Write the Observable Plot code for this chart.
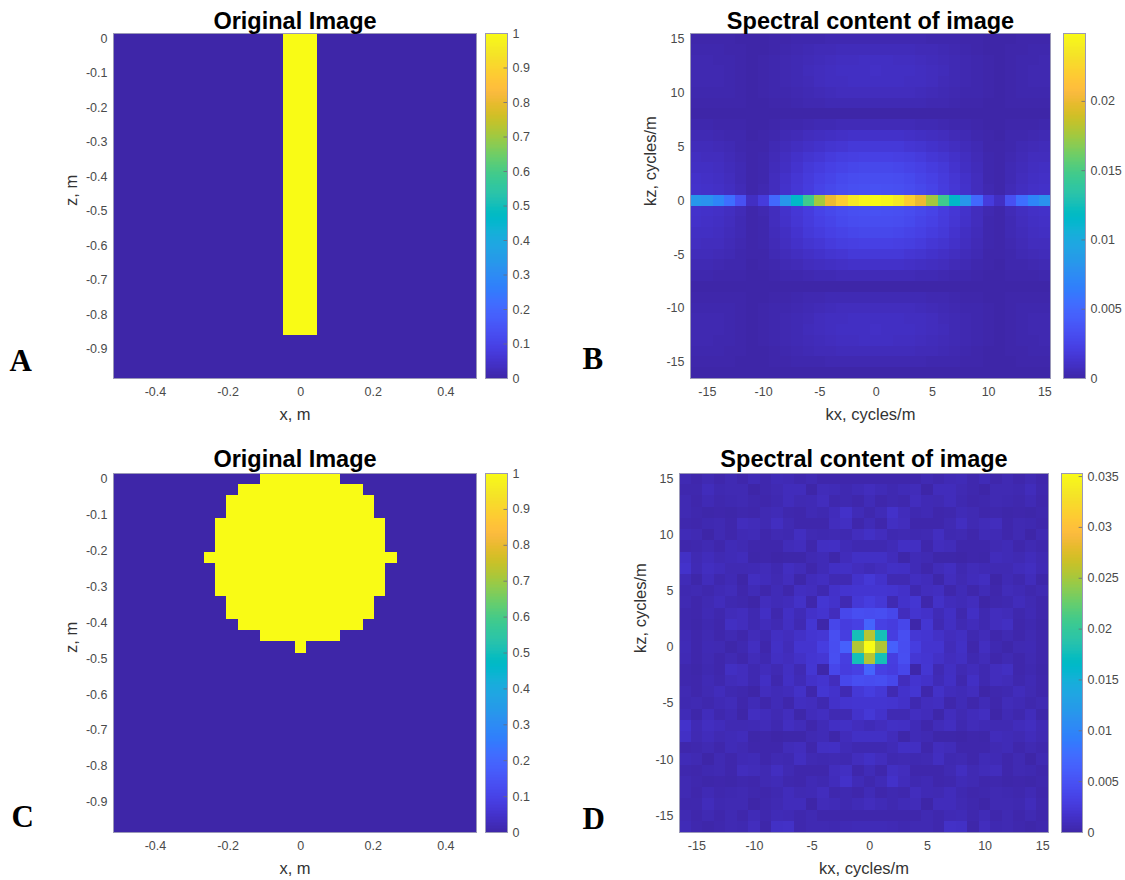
<!DOCTYPE html>
<html>
<head>
<meta charset="utf-8">
<script src="https://cdn.jsdelivr.net/npm/d3@7"></script>
<script src="https://cdn.jsdelivr.net/npm/@observablehq/plot@0.6"></script>
<style>
  html, body { margin: 0; padding: 0; background: #fff; }
  #fig { position: relative; width: 1125px; height: 880px; overflow: hidden; background: #fff; }
  #fig svg { position: absolute; overflow: visible; }
</style>
</head>
<body>
<div id="fig"></div>
<script>
// ---------- grid coordinates (cell centres) ----------
const xCells = [-0.5, -0.46875, -0.4375, -0.40625, -0.375, -0.34375, -0.3125, -0.28125,
  -0.25, -0.21875, -0.1875, -0.15625, -0.125, -0.09375, -0.0625, -0.03125,
  0, 0.03125, 0.0625, 0.09375, 0.125, 0.15625, 0.1875, 0.21875,
  0.25, 0.28125, 0.3125, 0.34375, 0.375, 0.40625, 0.4375, 0.46875];
const zCells = [0, -0.03125, -0.0625, -0.09375, -0.125, -0.15625, -0.1875, -0.21875,
  -0.25, -0.28125, -0.3125, -0.34375, -0.375, -0.40625, -0.4375, -0.46875,
  -0.5, -0.53125, -0.5625, -0.59375, -0.625, -0.65625, -0.6875, -0.71875,
  -0.75, -0.78125, -0.8125, -0.84375, -0.875, -0.90625, -0.9375, -0.96875];
const kxCells = [-16, -15, -14, -13, -12, -11, -10, -9, -8, -7, -6, -5, -4, -3, -2, -1,
  0, 1, 2, 3, 4, 5, 6, 7, 8, 9, 10, 11, 12, 13, 14, 15];
const kzCells = [15, 14, 13, 12, 11, 10, 9, 8, 7, 6, 5, 4, 3, 2, 1, 0,
  -1, -2, -3, -4, -5, -6, -7, -8, -9, -10, -11, -12, -13, -14, -15, -16];

// ---------- images: one string per row (top row z = 0), 1 = object ----------
const imageBar = [
  "00000000000000011100000000000000", "00000000000000011100000000000000",
  "00000000000000011100000000000000", "00000000000000011100000000000000",
  "00000000000000011100000000000000", "00000000000000011100000000000000",
  "00000000000000011100000000000000", "00000000000000011100000000000000",
  "00000000000000011100000000000000", "00000000000000011100000000000000",
  "00000000000000011100000000000000", "00000000000000011100000000000000",
  "00000000000000011100000000000000", "00000000000000011100000000000000",
  "00000000000000011100000000000000", "00000000000000011100000000000000",
  "00000000000000011100000000000000", "00000000000000011100000000000000",
  "00000000000000011100000000000000", "00000000000000011100000000000000",
  "00000000000000011100000000000000", "00000000000000011100000000000000",
  "00000000000000011100000000000000", "00000000000000011100000000000000",
  "00000000000000011100000000000000", "00000000000000011100000000000000",
  "00000000000000011100000000000000", "00000000000000011100000000000000",
  "00000000000000000000000000000000", "00000000000000000000000000000000",
  "00000000000000000000000000000000", "00000000000000000000000000000000"
];
const imageDisk = [
  "00000000000001111111000000000000",
  "00000000000111111111110000000000",
  "00000000001111111111111000000000",
  "00000000001111111111111000000000",
  "00000000011111111111111100000000",
  "00000000011111111111111100000000",
  "00000000011111111111111100000000",
  "00000000111111111111111110000000",
  "00000000011111111111111100000000",
  "00000000011111111111111100000000",
  "00000000011111111111111100000000",
  "00000000001111111111111000000000",
  "00000000001111111111111000000000",
  "00000000000111111111110000000000",
  "00000000000001111111000000000000",
  "00000000000000001000000000000000",
  "00000000000000000000000000000000", "00000000000000000000000000000000",
  "00000000000000000000000000000000", "00000000000000000000000000000000",
  "00000000000000000000000000000000", "00000000000000000000000000000000",
  "00000000000000000000000000000000", "00000000000000000000000000000000",
  "00000000000000000000000000000000", "00000000000000000000000000000000",
  "00000000000000000000000000000000", "00000000000000000000000000000000",
  "00000000000000000000000000000000", "00000000000000000000000000000000",
  "00000000000000000000000000000000", "00000000000000000000000000000000"
];

// ---------- spectra, in units of 1e-4; rows run kz = 15 (top) .. -16, columns kx = -16 .. 15 ----------
const spectrumBar = [
  [1,1,1,1,0,0,0,1,1,2,2,2,3,3,3,3,3,3,3,3,3,2,2,2,1,1,0,0,0,1,1,1],
  [2,2,2,1,1,0,0,1,2,3,4,5,5,6,6,6,6,6,6,6,5,5,4,3,2,1,0,0,1,1,2,2],
  [3,3,2,2,1,0,1,2,3,4,5,6,7,8,8,9,9,9,8,8,7,6,5,4,3,2,1,0,1,2,2,3],
  [3,3,3,2,1,0,1,2,3,4,6,7,8,9,9,9,10,9,9,9,8,7,6,4,3,2,1,0,1,2,3,3],
  [3,3,3,2,1,0,1,2,3,4,5,7,8,8,9,9,9,9,9,8,8,7,5,4,3,2,1,0,1,2,3,3],
  [2,2,2,2,1,0,1,2,2,3,4,5,6,7,7,7,7,7,7,7,6,5,4,3,2,2,1,0,1,2,2,2],
  [1,1,1,1,1,0,0,1,1,2,3,3,4,4,4,4,4,4,4,4,4,3,3,2,1,1,0,0,1,1,1,1],
  [0,0,0,0,0,0,0,0,0,0,0,0,0,0,0,0,0,0,0,0,0,0,0,0,0,0,0,0,0,0,0,0],
  [2,2,1,1,1,0,0,1,2,2,3,4,4,5,5,5,5,5,5,5,4,4,3,2,2,1,0,0,1,1,1,2],
  [4,4,3,2,2,0,1,2,4,5,7,8,9,10,11,11,11,11,11,10,9,8,7,5,4,2,1,0,2,2,3,4],
  [6,6,5,4,2,1,1,4,6,8,10,12,14,15,17,17,17,17,17,15,14,12,10,8,6,4,1,1,2,4,5,6],
  [8,7,7,5,3,1,2,5,8,11,14,16,19,21,22,23,23,23,22,21,19,16,14,11,8,5,2,1,3,5,7,7],
  [9,9,8,6,4,1,2,6,9,13,17,20,23,25,27,28,28,28,27,25,23,20,17,13,9,6,2,1,4,6,8,9],
  [11,10,9,7,4,1,2,7,11,15,19,23,26,29,31,32,32,32,31,29,26,23,19,15,11,7,2,1,4,7,9,10],
  [12,11,10,8,5,1,3,7,12,16,20,25,28,31,33,34,35,34,33,31,28,25,20,16,12,7,3,1,5,8,10,11],
  [83,80,70,55,34,9,19,51,83,116,146,176,200,221,237,246,249,246,237,221,200,176,146,116,83,51,19,9,34,55,70,80],
  [12,11,10,8,5,1,3,7,12,16,20,25,28,31,33,34,35,34,33,31,28,25,20,16,12,7,3,1,5,8,10,11],
  [11,10,9,7,4,1,2,7,11,15,19,23,26,29,31,32,32,32,31,29,26,23,19,15,11,7,2,1,4,7,9,10],
  [9,9,8,6,4,1,2,6,9,13,17,20,23,25,27,28,28,28,27,25,23,20,17,13,9,6,2,1,4,6,8,9],
  [8,7,7,5,3,1,2,5,8,11,14,16,19,21,22,23,23,23,22,21,19,16,14,11,8,5,2,1,3,5,7,7],
  [6,6,5,4,2,1,1,4,6,8,10,12,14,15,17,17,17,17,17,15,14,12,10,8,6,4,1,1,2,4,5,6],
  [4,4,3,2,2,0,1,2,4,5,7,8,9,10,11,11,11,11,11,10,9,8,7,5,4,2,1,0,2,2,3,4],
  [2,2,1,1,1,0,0,1,2,2,3,4,4,5,5,5,5,5,5,5,4,4,3,2,2,1,0,0,1,1,1,2],
  [0,0,0,0,0,0,0,0,0,0,0,0,0,0,0,0,0,0,0,0,0,0,0,0,0,0,0,0,0,0,0,0],
  [1,1,1,1,1,0,0,1,1,2,3,3,4,4,4,4,4,4,4,4,4,3,3,2,1,1,0,0,1,1,1,1],
  [2,2,2,2,1,0,1,2,2,3,4,5,6,7,7,7,7,7,7,7,6,5,4,3,2,2,1,0,1,2,2,2],
  [3,3,3,2,1,0,1,2,3,4,5,7,8,8,9,9,9,9,9,8,8,7,5,4,3,2,1,0,1,2,3,3],
  [3,3,3,2,1,0,1,2,3,4,6,7,8,9,9,9,10,9,9,9,8,7,6,4,3,2,1,0,1,2,3,3],
  [3,3,2,2,1,0,1,2,3,4,5,6,7,8,8,9,9,9,8,8,7,6,5,4,3,2,1,0,1,2,2,3],
  [2,2,2,1,1,0,0,1,2,3,4,5,5,6,6,6,6,6,6,6,5,5,4,3,2,1,0,0,1,1,2,2],
  [1,1,1,1,0,0,0,1,1,2,2,2,3,3,3,3,3,3,3,3,3,2,2,2,1,1,0,0,0,1,1,1],
  [0,0,0,0,0,0,0,0,0,0,0,0,0,0,0,0,0,0,0,0,0,0,0,0,0,0,0,0,0,0,0,0]
];
const spectrumDisk = [
  [5,2,5,2,5,2,7,3,7,6,3,5,2,2,2,2,2,2,2,2,2,5,3,6,7,3,7,2,5,2,5,2],
  [3,3,9,4,5,5,0,3,5,9,9,0,8,7,4,7,10,7,4,7,8,0,9,9,5,3,0,5,5,4,9,3],
  [5,2,6,3,4,5,3,2,4,9,5,6,10,3,4,2,7,2,4,3,10,6,5,9,4,2,3,5,4,3,6,2],
  [5,3,1,2,1,3,2,5,7,3,2,6,4,9,16,7,3,7,16,9,4,6,2,3,7,5,2,3,1,2,1,3],
  [3,2,4,5,2,10,8,5,11,5,2,2,2,10,12,2,7,2,12,10,2,2,2,5,11,5,8,10,2,5,4,2],
  [7,5,0,5,2,6,7,2,5,4,11,5,4,5,4,10,14,10,4,5,4,5,11,4,5,2,7,6,2,5,0,5],
  [2,3,5,2,7,5,2,2,2,8,10,2,12,13,7,4,4,4,7,13,12,2,10,8,2,2,2,5,7,2,5,3],
  [14,5,9,5,7,9,1,2,0,1,1,5,7,1,9,14,14,14,9,1,7,5,1,1,0,2,1,9,7,5,9,5],
  [17,6,11,9,5,5,6,8,4,11,8,2,7,13,14,10,7,10,14,13,7,2,8,11,4,8,6,5,5,9,11,6],
  [7,1,9,3,6,0,11,9,5,10,1,9,11,5,5,17,23,17,5,5,11,9,1,10,5,9,11,0,6,3,9,1],
  [4,5,3,6,8,2,7,2,7,2,11,10,4,16,19,20,20,20,19,16,4,10,11,2,7,2,7,2,8,6,3,5],
  [5,2,5,9,4,3,0,10,7,9,15,2,21,17,5,23,29,23,5,17,21,2,15,9,7,10,0,3,4,9,5,2],
  [3,2,6,3,8,10,4,13,3,13,7,16,19,10,39,46,44,46,39,10,19,16,7,13,3,13,4,10,8,3,6,2],
  [3,1,4,2,12,10,4,9,5,12,5,21,1,38,28,32,68,32,28,38,1,21,5,12,5,9,4,10,12,2,4,1],
  [6,2,5,2,5,2,8,4,12,10,15,20,22,46,30,178,256,178,30,46,22,20,15,10,12,4,8,2,5,2,5,2],
  [7,2,6,5,1,4,11,2,14,8,19,19,29,45,64,254,353,254,64,45,29,19,19,8,14,2,11,4,1,5,6,2],
  [6,2,5,2,5,2,8,4,12,10,15,20,22,46,30,178,256,178,30,46,22,20,15,10,12,4,8,2,5,2,5,2],
  [3,1,4,2,12,10,4,9,5,12,5,21,1,38,28,32,68,32,28,38,1,21,5,12,5,9,4,10,12,2,4,1],
  [3,2,6,3,8,10,4,13,3,13,7,16,19,10,39,46,44,46,39,10,19,16,7,13,3,13,4,10,8,3,6,2],
  [5,2,5,9,4,3,0,10,7,9,15,2,21,17,5,23,29,23,5,17,21,2,15,9,7,10,0,3,4,9,5,2],
  [4,5,3,6,8,2,7,2,7,2,11,10,4,16,19,20,20,20,19,16,4,10,11,2,7,2,7,2,8,6,3,5],
  [7,1,9,3,6,0,11,9,5,10,1,9,11,5,5,17,23,17,5,5,11,9,1,10,5,9,11,0,6,3,9,1],
  [17,6,11,9,5,5,6,8,4,11,8,2,7,13,14,10,7,10,14,13,7,2,8,11,4,8,6,5,5,9,11,6],
  [14,5,9,5,7,9,1,2,0,1,1,5,7,1,9,14,14,14,9,1,7,5,1,1,0,2,1,9,7,5,9,5],
  [2,3,5,2,7,5,2,2,2,8,10,2,12,13,7,4,4,4,7,13,12,2,10,8,2,2,2,5,7,2,5,3],
  [7,5,0,5,2,6,7,2,5,4,11,5,4,5,4,10,14,10,4,5,4,5,11,4,5,2,7,6,2,5,0,5],
  [3,2,4,5,2,10,8,5,11,5,2,2,2,10,12,2,7,2,12,10,2,2,2,5,11,5,8,10,2,5,4,2],
  [5,3,1,2,1,3,2,5,7,3,2,6,4,9,16,7,3,7,16,9,4,6,2,3,7,5,2,3,1,2,1,3],
  [5,2,6,3,4,5,3,2,4,9,5,6,10,3,4,2,7,2,4,3,10,6,5,9,4,2,3,5,4,3,6,2],
  [3,3,9,4,5,5,0,3,5,9,9,0,8,7,4,7,10,7,4,7,8,0,9,9,5,3,0,5,5,4,9,3],
  [5,2,5,2,5,2,7,3,7,6,3,5,2,2,2,2,2,2,2,2,2,5,3,6,7,3,7,2,5,2,5,2],
  [7,3,1,3,5,4,10,1,14,15,3,5,5,4,6,7,7,7,6,4,5,5,3,15,14,1,10,4,5,3,1,3]
];

// ---------- ticks and colour limits ----------
const xTicksImage = [-0.4, -0.2, 0, 0.2, 0.4];
const zTicksImage = [0, -0.1, -0.2, -0.3, -0.4, -0.5, -0.6, -0.7, -0.8, -0.9];
const kTicks = [-15, -10, -5, 0, 5, 10, 15];
const cbarTicksImage = [0, 0.1, 0.2, 0.3, 0.4, 0.5, 0.6, 0.7, 0.8, 0.9, 1];
const cbarTicksBar = [0, 0.005, 0.01, 0.015, 0.02];
const cbarTicksDisk = [0, 0.005, 0.01, 0.015, 0.02, 0.025, 0.03, 0.035];
const climImage = [0, 1];
const climBar = [0, 0.0249];
const climDisk = [0, 0.0353];

// ---------- parula colormap ----------
const parula64 = [
[0.2422,0.1504,0.6603],[0.2504,0.1650,0.7076],[0.2578,0.1818,0.7511],[0.2647,0.1978,0.7952],
[0.2706,0.2147,0.8364],[0.2751,0.2342,0.8710],[0.2783,0.2559,0.8991],[0.2803,0.2782,0.9221],
[0.2813,0.3006,0.9414],[0.2810,0.3228,0.9579],[0.2795,0.3447,0.9717],[0.2760,0.3667,0.9829],
[0.2699,0.3892,0.9906],[0.2602,0.4123,0.9952],[0.2440,0.4358,0.9988],[0.2206,0.4603,0.9973],
[0.1963,0.4847,0.9892],[0.1834,0.5074,0.9798],[0.1786,0.5289,0.9682],[0.1764,0.5499,0.9520],
[0.1687,0.5703,0.9359],[0.1540,0.5902,0.9218],[0.1460,0.6091,0.9079],[0.1380,0.6276,0.8973],
[0.1248,0.6459,0.8883],[0.1113,0.6635,0.8763],[0.0952,0.6798,0.8598],[0.0689,0.6948,0.8394],
[0.0297,0.7082,0.8163],[0.0036,0.7203,0.7917],[0.0067,0.7312,0.7660],[0.0433,0.7411,0.7394],
[0.0964,0.7500,0.7120],[0.1408,0.7584,0.6842],[0.1717,0.7670,0.6554],[0.1938,0.7758,0.6251],
[0.2161,0.7843,0.5923],[0.2470,0.7918,0.5567],[0.2906,0.7973,0.5188],[0.3406,0.8008,0.4789],
[0.3909,0.8029,0.4354],[0.4456,0.8024,0.3909],[0.5044,0.7993,0.3480],[0.5616,0.7942,0.3045],
[0.6174,0.7876,0.2612],[0.6720,0.7793,0.2227],[0.7242,0.7698,0.1910],[0.7738,0.7598,0.1646],
[0.8203,0.7498,0.1535],[0.8634,0.7406,0.1596],[0.9035,0.7330,0.1774],[0.9393,0.7288,0.2100],
[0.9728,0.7298,0.2394],[0.9956,0.7434,0.2371],[0.9970,0.7659,0.2199],[0.9952,0.7893,0.2028],
[0.9892,0.8136,0.1885],[0.9786,0.8386,0.1766],[0.9676,0.8639,0.1643],[0.9610,0.8890,0.1537],
[0.9597,0.9135,0.1423],[0.9628,0.9373,0.1265],[0.9691,0.9606,0.1064],[0.9769,0.9839,0.0805]];
const parulaHex = parula64.map(([r, g, b]) => d3.rgb(r * 255, g * 255, b * 255).formatHex());

const FONT = "'Liberation Sans', Arial, Helvetica, sans-serif";
const fmt = d => String(Math.round(d * 1e6) / 1e6);

function colorScale([lo, hi]) {
  return {
    type: "linear",
    domain: parulaHex.map((_, i) => lo + (hi - lo) * i / (parulaHex.length - 1)),
    range: parulaHex,
    interpolate: "rgb"
  };
}

// one record per grid cell, with its edges in data units
function gridCells(rows, xs, ys, unit) {
  const hx = Math.abs(xs[1] - xs[0]) / 2, hy = Math.abs(ys[1] - ys[0]) / 2;
  const out = [];
  rows.forEach((row, r) => {
    const vals = typeof row === "string" ? Array.from(row, Number) : row;
    vals.forEach((v, c) => out.push({
      x1: xs[c] - hx, x2: xs[c] + hx, y1: ys[r] - hy, y2: ys[r] + hy, v: v * unit
    }));
  });
  return out;
}

const fig = document.getElementById("fig");
function place(svg, left, top) {
  svg.style.left = left + "px";
  svg.style.top = top + "px";
  svg.style.background = "transparent";
  svg.style.maxWidth = "none";
  fig.appendChild(svg);
}

function heatmap(o) {
  const cells = gridCells(o.rows, o.xs, o.ys, o.unit);
  const hx = Math.abs(o.xs[1] - o.xs[0]) / 2, hy = Math.abs(o.ys[1] - o.ys[0]) / 2;
  const svg = Plot.plot({
    width: o.width, height: o.height,
    marginLeft: o.m[3], marginTop: o.m[0], marginRight: o.m[1], marginBottom: o.m[2],
    style: {fontFamily: FONT, fontSize: "12.5px", color: "#4a4a4a", background: "transparent"},
    x: {domain: [d3.min(o.xs) - hx, d3.max(o.xs) + hx], ticks: o.xTicks, tickFormat: fmt,
        tickSize: 0, tickPadding: 9, label: null},
    y: {domain: [d3.min(o.ys) - hy, d3.max(o.ys) + hy], ticks: o.yTicks, tickFormat: fmt,
        tickSize: 0, tickPadding: 6, label: null},
    color: colorScale(o.clim),
    marks: [
      Plot.frame({fill: parulaHex[0], stroke: null}),
      Plot.rect(cells, {x1: "x1", x2: "x2", y1: "y1", y2: "y2", fill: "v", shapeRendering: "crispEdges"}),
      Plot.frame({stroke: "#9a98b8", strokeWidth: 1}),
      Plot.text([o.title], {text: d => d, frameAnchor: "top", lineAnchor: "bottom", dy: o.titleDy,
        fontSize: 23.5, fontWeight: "bold", fill: "#000"}),
      Plot.text([o.xLabel], {text: d => d, frameAnchor: "bottom", lineAnchor: "bottom", dy: o.xLabelDy,
        fontSize: 16.5, fill: "#333"}),
      Plot.text([o.yLabel], {text: d => d, frameAnchor: "left", lineAnchor: "bottom", rotate: -90,
        dx: o.yLabelDx, fontSize: 16.5, fill: "#333"}),
      Plot.text([o.letter], {text: d => d, frameAnchor: "bottom-left", textAnchor: "start", lineAnchor: "bottom",
        dx: o.letterDx, dy: o.letterDy, fontSize: 31, fontWeight: "bold",
        fontFamily: "'Liberation Serif', 'Times New Roman', serif", fill: "#000"})
    ]
  });
  place(svg, o.left, o.top);
}

function colorbar(o) {
  const [lo, hi] = o.clim;
  const n = 240;
  const steps = d3.range(n).map(i => ({a: lo + (hi - lo) * i / n, b: lo + (hi - lo) * (i + 1) / n}));
  const svg = Plot.plot({
    width: o.width, height: o.height,
    marginLeft: 0, marginTop: o.m[0], marginRight: o.m[1], marginBottom: o.m[2],
    style: {fontFamily: FONT, fontSize: "12.5px", color: "#4a4a4a", background: "transparent"},
    x: {domain: [0, 1], axis: null},
    y: {domain: o.clim, axis: "right", ticks: o.ticks, tickFormat: fmt, tickSize: 0, tickPadding: 5, label: null},
    color: colorScale(o.clim),
    marks: [
      Plot.rect(steps, {x1: 0, x2: 1, y1: "a", y2: "b", fill: d => (d.a + d.b) / 2, shapeRendering: "crispEdges"}),
      Plot.ruleY(o.ticks, {x1: 0.84, x2: 1, stroke: "#6a6a7a", strokeWidth: 0.8}),
      Plot.frame({stroke: "#9a98b8", strokeWidth: 1})
    ]
  });
  place(svg, o.left, o.top);
}

// ---------- panel A: bar image ----------
heatmap({
  rows: imageBar, xs: xCells, ys: zCells, unit: 1, clim: climImage,
  xTicks: xTicksImage, yTicks: zTicksImage,
  title: "Original Image", xLabel: "x, m", yLabel: "z, m", letter: "A",
  left: 0, top: 0, width: 485, height: 440, m: [33, 9, 62, 113],
  titleDy: -5, xLabelDy: 41, yLabelDx: -37, letterDx: -104, letterDy: -8
});
colorbar({clim: climImage, ticks: cbarTicksImage, left: 485, top: 0, width: 75, height: 440, m: [33, 53, 62]});

// ---------- panel B: spectrum of bar ----------
heatmap({
  rows: spectrumBar, xs: kxCells, ys: kzCells, unit: 1e-4, clim: climBar,
  xTicks: kTicks, yTicks: kTicks,
  title: "Spectral content of image", xLabel: "kx, cycles/m", yLabel: "kz, cycles/m", letter: "B",
  left: 560, top: 0, width: 503, height: 440, m: [33, 13, 62, 130],
  titleDy: -5, xLabelDy: 41, yLabelDx: -35, letterDx: -108, letterDy: -10
});
colorbar({clim: climBar, ticks: cbarTicksBar, left: 1063, top: 0, width: 62, height: 440, m: [33, 40, 62]});

// ---------- panel C: disk image ----------
heatmap({
  rows: imageDisk, xs: xCells, ys: zCells, unit: 1, clim: climImage,
  xTicks: xTicksImage, yTicks: zTicksImage,
  title: "Original Image", xLabel: "x, m", yLabel: "z, m", letter: "C",
  left: 0, top: 440, width: 485, height: 440, m: [33, 9, 48, 113],
  titleDy: -7, xLabelDy: 41, yLabelDx: -37, letterDx: -102, letterDy: -6
});
colorbar({clim: climImage, ticks: cbarTicksImage, left: 485, top: 440, width: 75, height: 440, m: [33, 53, 48]});

// ---------- panel D: spectrum of disk ----------
heatmap({
  rows: spectrumDisk, xs: kxCells, ys: kzCells, unit: 1e-4, clim: climDisk,
  xTicks: kTicks, yTicks: kTicks,
  title: "Spectral content of image", xLabel: "kx, cycles/m", yLabel: "kz, cycles/m", letter: "D",
  left: 560, top: 440, width: 501, height: 440, m: [33, 13, 48, 119],
  titleDy: -7, xLabelDy: 41, yLabelDx: -34, letterDx: -97, letterDy: -4
});
colorbar({clim: climDisk, ticks: cbarTicksDisk, left: 1061, top: 440, width: 64, height: 440, m: [33, 43, 48]});
</script>
</body>
</html>
